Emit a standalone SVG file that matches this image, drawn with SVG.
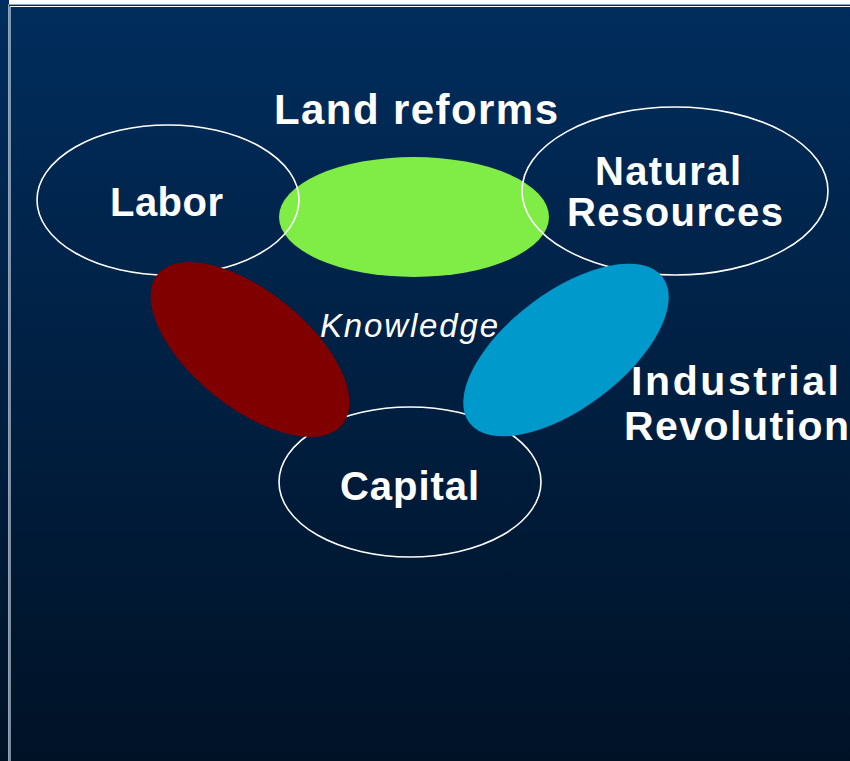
<svg xmlns="http://www.w3.org/2000/svg" width="850" height="761" viewBox="0 0 850 761">
<defs>
<linearGradient id="bg" x1="0" y1="0" x2="0" y2="1">
<stop offset="0" stop-color="#002D5D"/>
<stop offset="1" stop-color="#001226"/>
</linearGradient>
</defs>
<style>
.ring{fill:none;stroke:#FFFFFF;stroke-width:1.6}
.lbl{font-family:"Liberation Sans",Arial,sans-serif;font-weight:bold;fill:#FFFFFF}
.kn{font-family:"Liberation Sans",Arial,sans-serif;font-style:italic;fill:#FFFFFF}
</style>
<rect x="0" y="0" width="850" height="761" fill="url(#bg)"/>
<rect x="9" y="0" width="841" height="4" fill="#FFFFFF"/>
<path d="M8.5 761V4.5H850" fill="none" stroke="#8FA3BC" stroke-width="1"/>
<path d="M10 761V6.5H850" fill="none" stroke="#FFFFFF" stroke-width="1"/>

<g id="land-reforms">
<ellipse cx="414" cy="217" rx="135" ry="60" fill="#80EC46"/>
<text class="lbl" x="274" y="124" font-size="42" textLength="284" lengthAdjust="spacing">Land reforms</text>
</g>
<g id="labor">
<ellipse class="ring" cx="168" cy="200" rx="131" ry="75"/>
<text class="lbl" x="110" y="216" font-size="40" textLength="113" lengthAdjust="spacing">Labor</text>
</g>
<g id="natural-resources">
<ellipse class="ring" cx="675" cy="191" rx="153" ry="84"/>
<text class="lbl" x="595" y="185" font-size="40" textLength="146" lengthAdjust="spacing">Natural</text>
<text class="lbl" x="567" y="226" font-size="40" textLength="216" lengthAdjust="spacing">Resources</text>
</g>
<g id="capital">
<ellipse class="ring" cx="410" cy="482" rx="131" ry="75"/>
<text class="lbl" x="340" y="500" font-size="40" textLength="139" lengthAdjust="spacing">Capital</text>
</g>
<g id="red-overlap">
<ellipse cx="250" cy="349.5" rx="119" ry="58" fill="#800000" transform="rotate(39 250 349.5)"/>
</g>
<g id="industrial-revolution">
<ellipse cx="566" cy="350" rx="121" ry="58" fill="#0099CC" transform="rotate(-37 566 350)"/>
<text class="lbl" x="631" y="395" font-size="41" textLength="208" lengthAdjust="spacing">Industrial</text>
<text class="lbl" x="624" y="440" font-size="41" textLength="225" lengthAdjust="spacing">Revolution</text>
</g>
<g id="knowledge">
<text class="kn" x="320" y="337" font-size="33" textLength="178" lengthAdjust="spacing">Knowledge</text>
</g>
</svg>
